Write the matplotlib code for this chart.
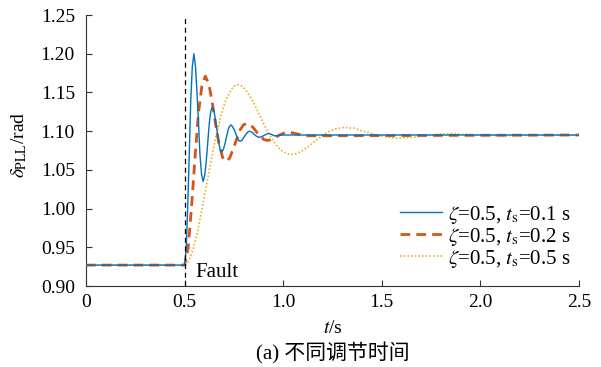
import matplotlib
matplotlib.use("Agg")
import matplotlib.pyplot as plt

plt.rcParams['font.family'] = ['Liberation Serif', 'Noto Sans CJK SC']
plt.rcParams['mathtext.fontset'] = 'stix'

# ---- data ----
t_blue = [0.0, 0.500, 0.508, 0.516, 0.524, 0.531, 0.539, 0.547, 0.555, 0.563, 0.571,
          0.578, 0.586, 0.594, 0.602, 0.610, 0.618, 0.625, 0.633, 0.641, 0.649,
          0.657, 0.665, 0.672, 0.680, 0.688, 0.696, 0.704, 0.712, 0.720, 0.727,
          0.735, 0.743, 0.751, 0.759, 0.767, 0.774, 0.782, 0.790, 0.798, 0.806,
          0.814, 0.821, 0.829, 0.837, 0.845, 0.853, 0.861, 0.868, 0.876,
          0.892, 0.907, 0.923, 0.939, 0.955, 0.970, 0.990, 1.020, 2.5]
v_blue = [0.927, 0.927, 0.949, 1.004, 1.074, 1.138, 1.183, 1.200, 1.184, 1.149, 1.108,
          1.069, 1.044, 1.035, 1.043, 1.062, 1.087, 1.110, 1.126, 1.131, 1.126,
          1.114, 1.100, 1.086, 1.077, 1.073, 1.076, 1.083, 1.092, 1.101, 1.106,
          1.108, 1.106, 1.102, 1.097, 1.092, 1.088, 1.087, 1.088, 1.091, 1.094,
          1.097, 1.099, 1.100, 1.099, 1.098, 1.096, 1.094, 1.093, 1.092,
          1.093, 1.095, 1.097, 1.096, 1.094, 1.094, 1.095, 1.095, 1.095]

t_red = [0.0, 0.500, 0.518, 0.535, 0.553, 0.570, 0.588, 0.605, 0.623, 0.640, 0.658,
         0.675, 0.693, 0.710, 0.728, 0.745, 0.763, 0.780, 0.798, 0.815, 0.833,
         0.850, 0.868, 0.885, 0.903, 0.920, 0.938, 0.955, 0.973, 0.990, 1.008,
         1.025, 1.043, 1.060, 1.078, 1.095, 1.113, 1.130, 2.5]
v_red = [0.927, 0.927, 0.949, 1.002, 1.066, 1.123, 1.159, 1.171, 1.161, 1.137, 1.108,
         1.083, 1.066, 1.061, 1.065, 1.076, 1.089, 1.101, 1.108, 1.110, 1.108,
         1.104, 1.098, 1.093, 1.089, 1.088, 1.089, 1.091, 1.094, 1.096, 1.098,
         1.098, 1.098, 1.097, 1.096, 1.095, 1.094, 1.094, 1.095]

t_orange = [0.0, 0.500, 0.523, 0.545, 0.568, 0.590, 0.613, 0.635, 0.658, 0.681, 0.703,
            0.726, 0.748, 0.771, 0.793, 0.816, 0.839, 0.861, 0.884, 0.906, 0.929,
            0.951, 0.974, 0.997, 1.019, 1.042, 1.064, 1.087, 1.109, 1.132, 1.155,
            1.177, 1.200, 1.222, 1.245, 1.267, 1.290, 1.313, 1.335, 1.358, 1.380,
            1.403, 1.425, 1.448, 1.471, 1.493, 1.516, 1.538, 1.561, 1.583,
            1.651, 1.719, 1.786, 1.854, 1.922, 1.990, 2.125, 2.300, 2.5]
v_orange = [0.927, 0.927, 0.933, 0.949, 0.973, 1.002, 1.033, 1.063, 1.092, 1.116, 1.136,
            1.149, 1.158, 1.160, 1.158, 1.151, 1.142, 1.131, 1.119, 1.107, 1.096,
            1.087, 1.079, 1.074, 1.071, 1.070, 1.071, 1.073, 1.077, 1.081, 1.086,
            1.090, 1.095, 1.098, 1.101, 1.103, 1.104, 1.105, 1.104, 1.104, 1.102,
            1.100, 1.099, 1.097, 1.095, 1.094, 1.093, 1.092, 1.091, 1.091,
            1.092, 1.094, 1.096, 1.097, 1.096, 1.095, 1.094, 1.095, 1.095]

labels = [r'$\zeta$=0.5, $t_{\mathrm{s}}$=0.1 s',
          r'$\zeta$=0.5, $t_{\mathrm{s}}$=0.2 s',
          r'$\zeta$=0.5, $t_{\mathrm{s}}$=0.5 s']
fault_t = 0.5
x_ticks = [0, 0.5, 1.0, 1.5, 2.0, 2.5]
x_ticklabels = ['0', '0.5', '1.0', '1.5', '2.0', '2.5']
y_ticks = [0.90, 0.95, 1.00, 1.05, 1.10, 1.15, 1.20, 1.25]
y_ticklabels = ['0.90', '0.95', '1.00', '1.05', '1.10', '1.15', '1.20', '1.25']

# ---- figure ----
fig = plt.figure(figsize=(6.01, 3.67), dpi=100)
ax = fig.add_axes([0.1431, 0.2207, 0.8203, 0.7384])

ax.plot(t_blue, v_blue, color='#0072BD', lw=1.0, label=labels[0], zorder=4)
ax.plot(t_red, v_red, color='#D95319', lw=2.0, dashes=(3.5, 2.2), label=labels[1], zorder=3)
ax.plot(t_orange, v_orange, color='#EDB120', lw=1.2, dashes=(1, 1.2), label=labels[2], zorder=2)

ax.axvline(fault_t, color='black', lw=0.9, dashes=(4, 3), zorder=5)
ax.text(0.553, 0.912, 'Fault', fontsize=15, va='baseline', ha='left')

ax.set_xlim(0, 2.5)
ax.set_ylim(0.90, 1.25)
ax.set_xticks(x_ticks)
ax.set_xticklabels(x_ticklabels)
ax.set_yticks(y_ticks)
ax.set_yticklabels(y_ticklabels)
ax.tick_params(direction='in', labelsize=14, length=4, width=0.8, colors='#333333',
               labelcolor='black')
ax.tick_params(axis='y', pad=8)
ax.tick_params(axis='x', pad=6)
for s in ['top', 'right']:
    ax.spines[s].set_visible(False)
for s in ['left', 'bottom']:
    ax.spines[s].set_color('#333333')
    ax.spines[s].set_linewidth(0.8)

ax.set_xlabel(r'$t$/s', fontsize=14)
ax.xaxis.set_label_coords(0.5, -0.155)
ax.xaxis.label.set_va('center')
ax.set_ylabel(r'$\delta_{\mathrm{PLL}}$/rad', fontsize=14)
ax.yaxis.set_label_coords(-0.136, 0.52)
ax.yaxis.label.set_va('center')

leg = ax.legend(loc='lower right', bbox_to_anchor=(1.0, 0.03), frameon=False,
                fontsize=15, handlelength=2.0, handletextpad=0.3,
                labelspacing=0.0, borderaxespad=0.0)

ax_center = 0.1431 + 0.8203 / 2
fig.text(ax_center, 0.038, '(a) 不同调节时间', fontsize=15, ha='center', va='center',
         family=['Liberation Serif', 'Noto Sans CJK SC'])

fig.savefig('out.png', dpi=100)
